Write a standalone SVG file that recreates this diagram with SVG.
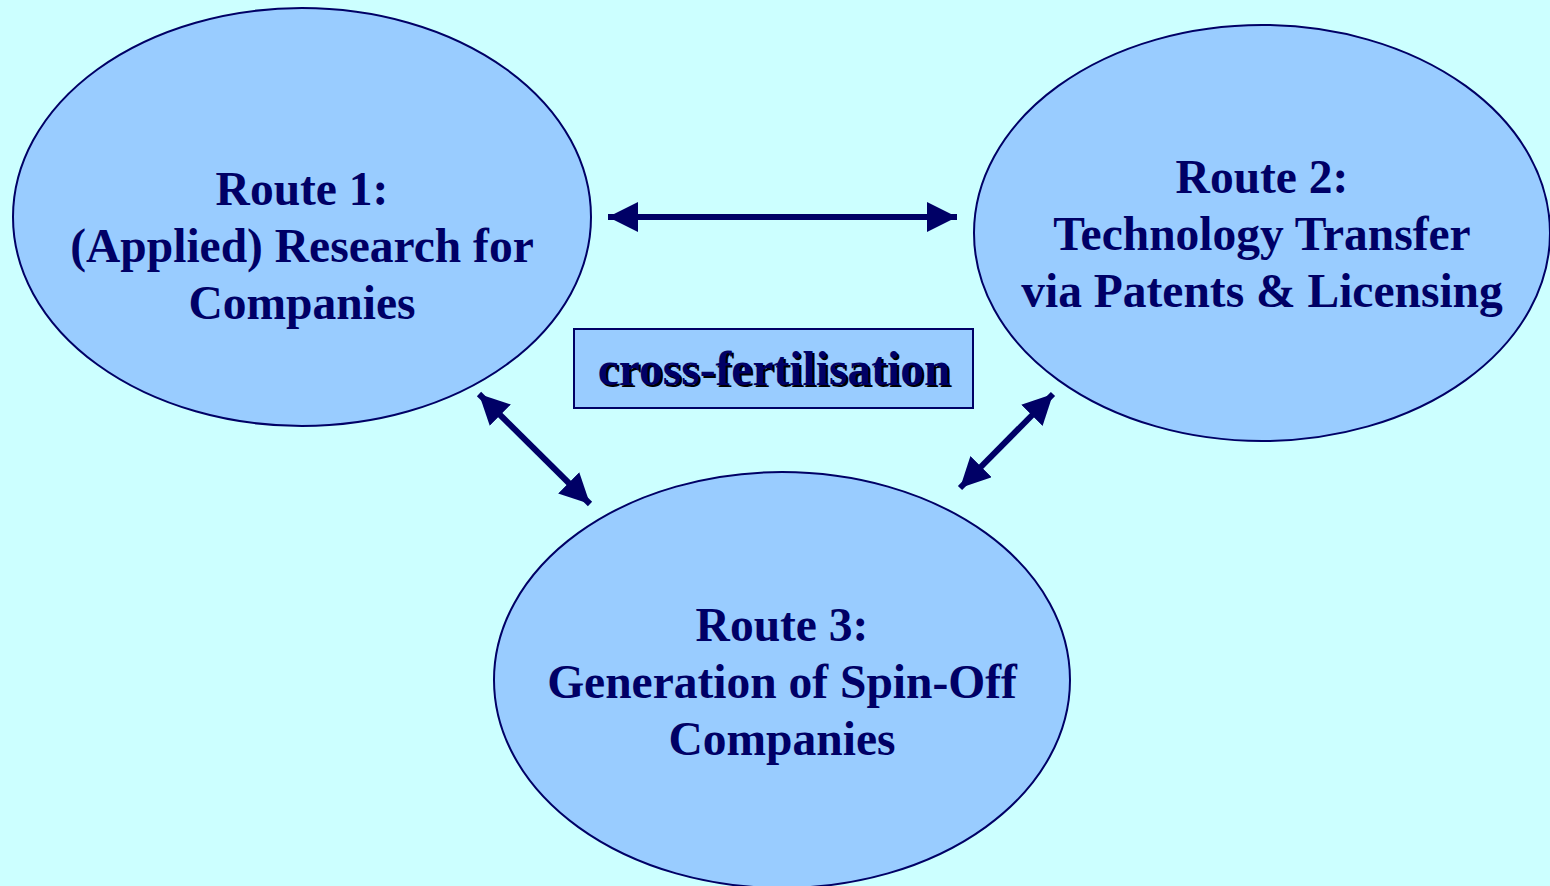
<svg xmlns="http://www.w3.org/2000/svg" width="1550" height="886" viewBox="0 0 1550 886">
<defs>
<style>
.node{fill:#99CCFF;stroke:#000066;stroke-width:2}
.t{font-family:"Liberation Serif","Times New Roman",serif;font-weight:bold;font-size:47.5px;fill:#000066;text-anchor:middle}
.sh{fill:#000000}
.c{stroke:#000066;stroke-width:6;fill:none;marker-start:url(#ah);marker-end:url(#ah)}
</style>
<marker id="ah" viewBox="0 0 10 10" refX="10" refY="5" markerWidth="5" markerHeight="5" orient="auto-start-reverse" markerUnits="strokeWidth">
<path d="M0,0 L10,5 L0,10 z" fill="#000066"/>
</marker>
</defs>
<rect width="1550" height="886" fill="#CCFFFF"/>
<g id="connectors">
<line class="c" x1="608" y1="217" x2="957" y2="217"/>
<line class="c" x1="479" y1="394" x2="590" y2="504"/>
<line class="c" x1="1053" y1="394" x2="960" y2="488"/>
</g>
<g id="route1">
<ellipse class="node" cx="302" cy="217" rx="289" ry="209"/>
<text class="t" x="302" y="205">Route 1:</text>
<text class="t" x="302" y="262">(Applied) Research for</text>
<text class="t" x="302" y="319">Companies</text>
</g>
<g id="route2">
<ellipse class="node" cx="1262" cy="233" rx="288" ry="208"/>
<text class="t" x="1262" y="193">Route 2:</text>
<text class="t" x="1262" y="250">Technology Transfer</text>
<text class="t" x="1262" y="307">via Patents &amp; Licensing</text>
</g>
<g id="route3">
<ellipse class="node" cx="782" cy="680" rx="288" ry="208"/>
<text class="t" x="782" y="641">Route 3:</text>
<text class="t" x="782" y="698">Generation of Spin-Off</text>
<text class="t" x="782" y="755">Companies</text>
</g>
<g id="crossfert">
<rect x="574" y="329" width="399" height="79" fill="#99CCFF" stroke="#000066" stroke-width="2"/>
<text class="t sh" x="776" y="387">cross-fertilisation</text>
<text class="t" x="774" y="385">cross-fertilisation</text>
</g>
</svg>
